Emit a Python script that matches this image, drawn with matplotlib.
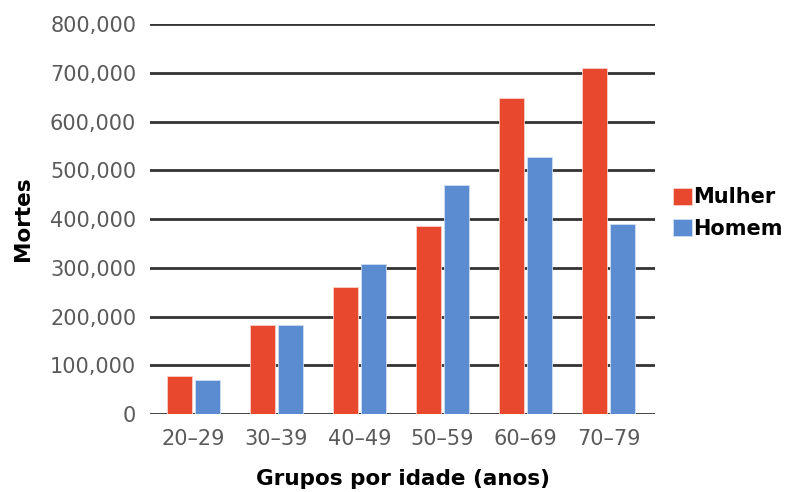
import numpy as np
import matplotlib.pyplot as plt
from matplotlib.ticker import FuncFormatter

# mortes por faixa etária
grupos = ["20–29", "30–39", "40–49", "50–59", "60–69", "70–79"]
mulher = [78000, 183000, 261000, 385000, 648000, 710000]
homem = [70000, 183000, 307000, 469000, 527000, 389000]

cor_mulher = "#E8482E"
cor_homem = "#5B8BD0"

fig = plt.figure(figsize=(7.88, 4.92), dpi=100)
ax = fig.add_axes([0.1904, 0.1585, 0.6408, 0.7927])

x = np.arange(len(grupos))
largura = 0.30
ax.bar(x - 0.168, mulher, largura, color=cor_mulher, edgecolor="#F7D0C8",
       linewidth=0.6, label="Mulher", zorder=3)
ax.bar(x + 0.168, homem, largura, color=cor_homem, edgecolor="#D0DDF2",
       linewidth=0.6, label="Homem", zorder=3)

ax.set_xlim(-0.524, 5.56)
ax.set_ylim(0, 800000)
ax.set_yticks(np.arange(0, 800001, 100000))
ax.yaxis.set_major_formatter(FuncFormatter(lambda v, p: f"{int(v):,}"))
ax.set_xticks(x)
ax.set_xticklabels(grupos)

ax.yaxis.grid(True, color="#333333", linewidth=2, zorder=0)
ax.set_axisbelow(True)
for s in ax.spines.values():
    s.set_visible(False)
ax.tick_params(length=0, labelsize=15, labelcolor="#5a5a5a", pad=10)
ax.tick_params(axis="x", pad=11)
for lab in ax.get_xticklabels() + ax.get_yticklabels():
    lab.set_family("DejaVu Sans")

ax.set_ylabel("Mortes", fontsize=15.5, fontweight="bold", family="DejaVu Sans")
ax.set_xlabel("Grupos por idade (anos)", fontsize=15.5, fontweight="bold",
              family="DejaVu Sans", labelpad=14)
ax.yaxis.set_label_coords(-0.232, 0.5)

leg = ax.legend(loc="center left", bbox_to_anchor=(1.036, 0.515), frameon=False,
                handlelength=0.9, handleheight=0.9, handletextpad=0.08,
                labelspacing=0.55, borderaxespad=0, borderpad=0,
                prop={"family": "DejaVu Sans", "weight": "bold", "size": 15})

fig.savefig("out.png", dpi=100)
